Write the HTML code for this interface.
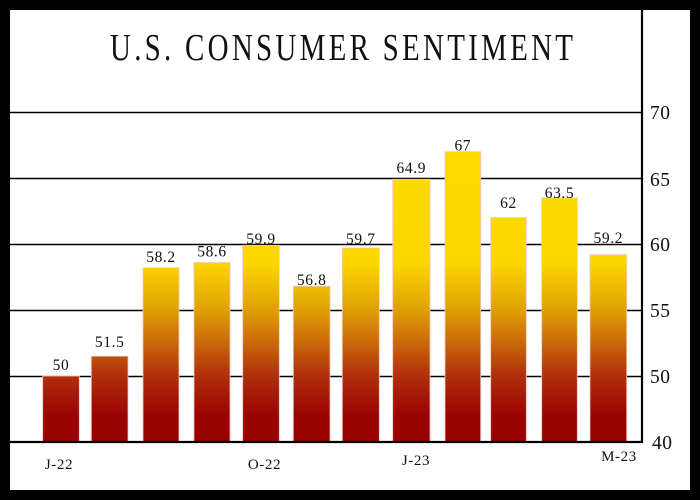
<!DOCTYPE html>
<html>
<head>
<meta charset="utf-8">
<style>
html,body{margin:0;padding:0;background:#000;}
svg{display:block;}
text{font-family:"Liberation Serif","DejaVu Serif",serif;fill:#111;}
</style>
</head>
<body>
<svg width="700" height="500" viewBox="0 0 700 500" xmlns="http://www.w3.org/2000/svg">
<defs>
<linearGradient id="g" gradientUnits="userSpaceOnUse" x1="0" y1="442" x2="0" y2="150">
<stop offset="0" stop-color="#990000"/>
<stop offset="0.09" stop-color="#9a0303"/>
<stop offset="0.228" stop-color="#b0300c"/>
<stop offset="0.332" stop-color="#c8640a"/>
<stop offset="0.452" stop-color="#dfa006"/>
<stop offset="0.616" stop-color="#fcd800"/>
<stop offset="1" stop-color="#fdda00"/>
</linearGradient>
</defs>
<rect x="0" y="0" width="700" height="500" fill="#000"/>
<rect x="10" y="10" width="680" height="480" fill="#fff"/>

<g transform="translate(0,60) scale(1,1.3)">
<text x="110" y="0" font-size="29" textLength="463" lengthAdjust="spacing">U.S. CONSUMER SENTIMENT</text>
</g>

<g stroke="#000" stroke-width="1.5">
<line x1="10" y1="112.5" x2="642" y2="112.5"/>
<line x1="10" y1="178.5" x2="642" y2="178.5"/>
<line x1="10" y1="244.5" x2="642" y2="244.5"/>
<line x1="10" y1="310.5" x2="642" y2="310.5"/>
<line x1="10" y1="376.5" x2="642" y2="376.5"/>
</g>

<g fill="url(#g)" stroke="#f3c7bf" stroke-width="0.8">
<rect x="42.7" y="376" width="36.6" height="66"/>
<rect x="91.3" y="356.2" width="36.7" height="85.8"/>
<rect x="143" y="267.8" width="36" height="174.2"/>
<rect x="194" y="262.5" width="36" height="179.5"/>
<rect x="242.7" y="245.3" width="36.6" height="196.7"/>
<rect x="293.3" y="286.2" width="36.7" height="155.8"/>
<rect x="342.3" y="248" width="37" height="194"/>
<rect x="392.7" y="179.3" width="37.3" height="262.7"/>
<rect x="445" y="151.6" width="35.7" height="290.4"/>
<rect x="490.7" y="217.6" width="35.6" height="224.4"/>
<rect x="541.7" y="197.8" width="35.6" height="244.2"/>
<rect x="590" y="254.6" width="36.7" height="187.4"/>
</g>

<line x1="10" y1="442" x2="643" y2="442" stroke="#000" stroke-width="2.2"/>
<line x1="642" y1="10" x2="642" y2="443" stroke="#000" stroke-width="2.2"/>

<g font-size="15.5" text-anchor="middle" letter-spacing="0.6">
<text x="61" y="370">50</text>
<text x="109.7" y="347">51.5</text>
<text x="161" y="262">58.2</text>
<text x="212" y="256.5">58.6</text>
<text x="261" y="244">59.9</text>
<text x="311.7" y="285">56.8</text>
<text x="360.8" y="244">59.7</text>
<text x="411.3" y="173">64.9</text>
<text x="462.8" y="150.5">67</text>
<text x="508.5" y="208">62</text>
<text x="559.5" y="198">63.5</text>
<text x="608.3" y="243">59.2</text>
</g>

<g font-size="19.5" letter-spacing="0.5">
<text x="650" y="119">70</text>
<text x="650" y="186">65</text>
<text x="650" y="251">60</text>
<text x="650" y="317">55</text>
<text x="650" y="383">50</text>
<text x="652" y="449">40</text>
</g>

<g font-size="15" text-anchor="middle" letter-spacing="0.6">
<text x="59" y="469">J-22</text>
<text x="264.5" y="469">O-22</text>
<text x="416" y="465">J-23</text>
<text x="619" y="461">M-23</text>
</g>
</svg>
</body>
</html>
